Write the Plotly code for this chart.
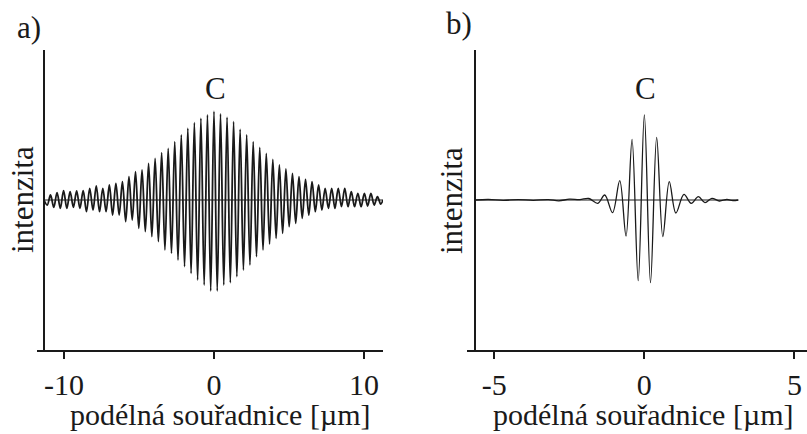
import plotly.graph_objects as go

# ---------------- data ----------------
# panel a) : fringe extrema, intensity in arbitrary units (zero = baseline)
a_fringe_period = 0.436  # µm
a_peaks = [0.05, 0.073, 0.093, 0.083, 0.09, 0.093, 0.117, 0.14, 0.117, 0.15,
           0.167, 0.183, 0.233, 0.283, 0.30, 0.367, 0.417, 0.473, 0.517, 0.583,
           0.65, 0.717, 0.773, 0.817, 0.85,
           0.885,
           0.86, 0.827, 0.783, 0.707, 0.65, 0.583, 0.527, 0.467, 0.407, 0.35,
           0.31, 0.267, 0.233, 0.207, 0.183, 0.15, 0.117, 0.117, 0.117, 0.117,
           0.083, 0.067, 0.067, 0.067, 0.033]
a_troughs = [-0.05, -0.073, -0.083, -0.083, -0.073, -0.083, -0.117, -0.10, -0.117,
             -0.117, -0.15, -0.15, -0.217, -0.20, -0.283, -0.317, -0.367, -0.417,
             -0.50, -0.533, -0.60, -0.667, -0.733, -0.80, -0.85, -0.91,
             -0.91, -0.85, -0.827, -0.767, -0.70, -0.65, -0.567, -0.50, -0.44,
             -0.383, -0.333, -0.267, -0.233, -0.183, -0.15, -0.117, -0.10,
             -0.083, -0.083, -0.067, -0.067, -0.067, -0.067, -0.06, -0.05, -0.04]
a_start, a_end = -11.33, 11.27  # µm, ends of the recorded trace

# panel b) : sampled positions (µm) and intensity
b_x = [-5.63, -5.2, -4.7, -4.2, -3.7, -3.2, -2.85, -2.5, -2.15, -1.85,
       -1.55, -1.32, -1.06, -0.82, -0.61, -0.41, -0.205, 0.0, 0.205, 0.41,
       0.615, 0.83, 1.05, 1.32, 1.56, 1.80, 2.02, 2.25,
       2.5, 2.75, 2.95, 3.13]
b_y = [0.0, 0.005, -0.003, 0.004, -0.003, 0.004, -0.008, 0.008, 0.004, 0.015,
       -0.033, 0.05, -0.127, 0.193, -0.36, 0.607, -0.807, 0.85, -0.827, 0.627,
       -0.367, 0.183, -0.13, 0.057, -0.033, 0.033, -0.027, 0.017,
       -0.01, 0.005, -0.005, 0.0]

x_ticks_a = [-10, 0, 10]
x_ticks_b = [-5, 0, 5]
tick_text_a = ["-10", "0", "10"]
tick_text_b = ["-5", "0", "5"]
x_title = "podélná souřadnice [µm]"
y_title = "intenzita"
panel_labels = ["a)", "b)"]
peak_label = "C"

# ---------------- build panel a trace from extrema ----------------
n_peaks = len(a_peaks)
k0 = (n_peaks - 1) // 2
a_x = [a_start]
a_y = [0.0]
for i in range(n_peaks):
    a_x.append((i - k0 - 0.5) * a_fringe_period)
    a_y.append(a_troughs[i])
    a_x.append((i - k0) * a_fringe_period)
    a_y.append(a_peaks[i])
a_x.append((n_peaks - k0 - 0.5) * a_fringe_period)
a_y.append(a_troughs[n_peaks])
a_x.append(a_end)
a_y.append(0.0)

INK = "#1a1a1a"
FONT = "Liberation Serif, Times New Roman, DejaVu Serif, serif"
W, H = 807, 434

fig = go.Figure()
fig.add_trace(go.Scatter(x=[a_start, a_end], y=[0, 0], mode="lines",
                         line=dict(color=INK, width=1), xaxis="x", yaxis="y",
                         hoverinfo="skip"))
fig.add_trace(go.Scatter(x=a_x, y=a_y, mode="lines",
                         line=dict(color=INK, width=1.8, shape="spline"),
                         xaxis="x", yaxis="y"))
fig.add_trace(go.Scatter(x=[b_x[0], b_x[-1]], y=[0, 0], mode="lines",
                         line=dict(color=INK, width=1), xaxis="x2", yaxis="y2",
                         hoverinfo="skip"))
fig.add_trace(go.Scatter(x=b_x, y=b_y, mode="lines",
                         line=dict(color=INK, width=1.3, shape="spline"),
                         xaxis="x2", yaxis="y2"))

ydom = [(H - 350) / H, (H - 50) / H]
common_x = dict(showline=True, linewidth=2, linecolor=INK, ticks="outside",
                ticklen=7, tickwidth=2, tickcolor=INK, showgrid=False,
                zeroline=False, tickfont=dict(family=FONT, size=30, color=INK))
common_y = dict(showline=True, linewidth=2, linecolor=INK, showgrid=False,
                zeroline=False, showticklabels=False, ticks="",
                range=[-1.5, 1.5], domain=ydom, anchor="free")

fig.update_layout(
    width=W, height=H,
    margin=dict(l=0, r=0, t=0, b=0),
    paper_bgcolor="white", plot_bgcolor="white",
    showlegend=False,
    xaxis=dict(common_x, domain=[37 / W, 383 / W], range=[-11.8, 11.27],
               tickvals=x_ticks_a, ticktext=tick_text_a, anchor="y"),
    yaxis=dict(common_y, position=44 / W),
    xaxis2=dict(common_x, domain=[467 / W, 1.0], range=[-5.91, 5.42],
                tickvals=x_ticks_b, ticktext=tick_text_b, anchor="y2"),
    yaxis2=dict(common_y, position=475 / W),
)

def ann(text, px, py, size=30, angle=0):
    fig.add_annotation(text=text, x=px / W, y=1 - py / H, xref="paper",
                       yref="paper", showarrow=False, xanchor="center",
                       yanchor="middle", textangle=angle,
                       font=dict(family=FONT, size=size, color=INK))

ann(panel_labels[0], 29, 27, size=31)
ann(panel_labels[1], 459, 24, size=31)
ann(peak_label, 216, 88, size=31)
ann(peak_label, 645, 88, size=31)
ann(x_title, 220, 414)
ann(x_title, 643, 414)
ann(y_title, 22, 200, angle=-90, size=31)
ann(y_title, 451, 200, angle=-90, size=31)

fig.write_html("out.html",
               config={"displayModeBar": False},
               post_script="document.body.style.margin='0';"
                           "document.body.style.overflow='hidden';")
